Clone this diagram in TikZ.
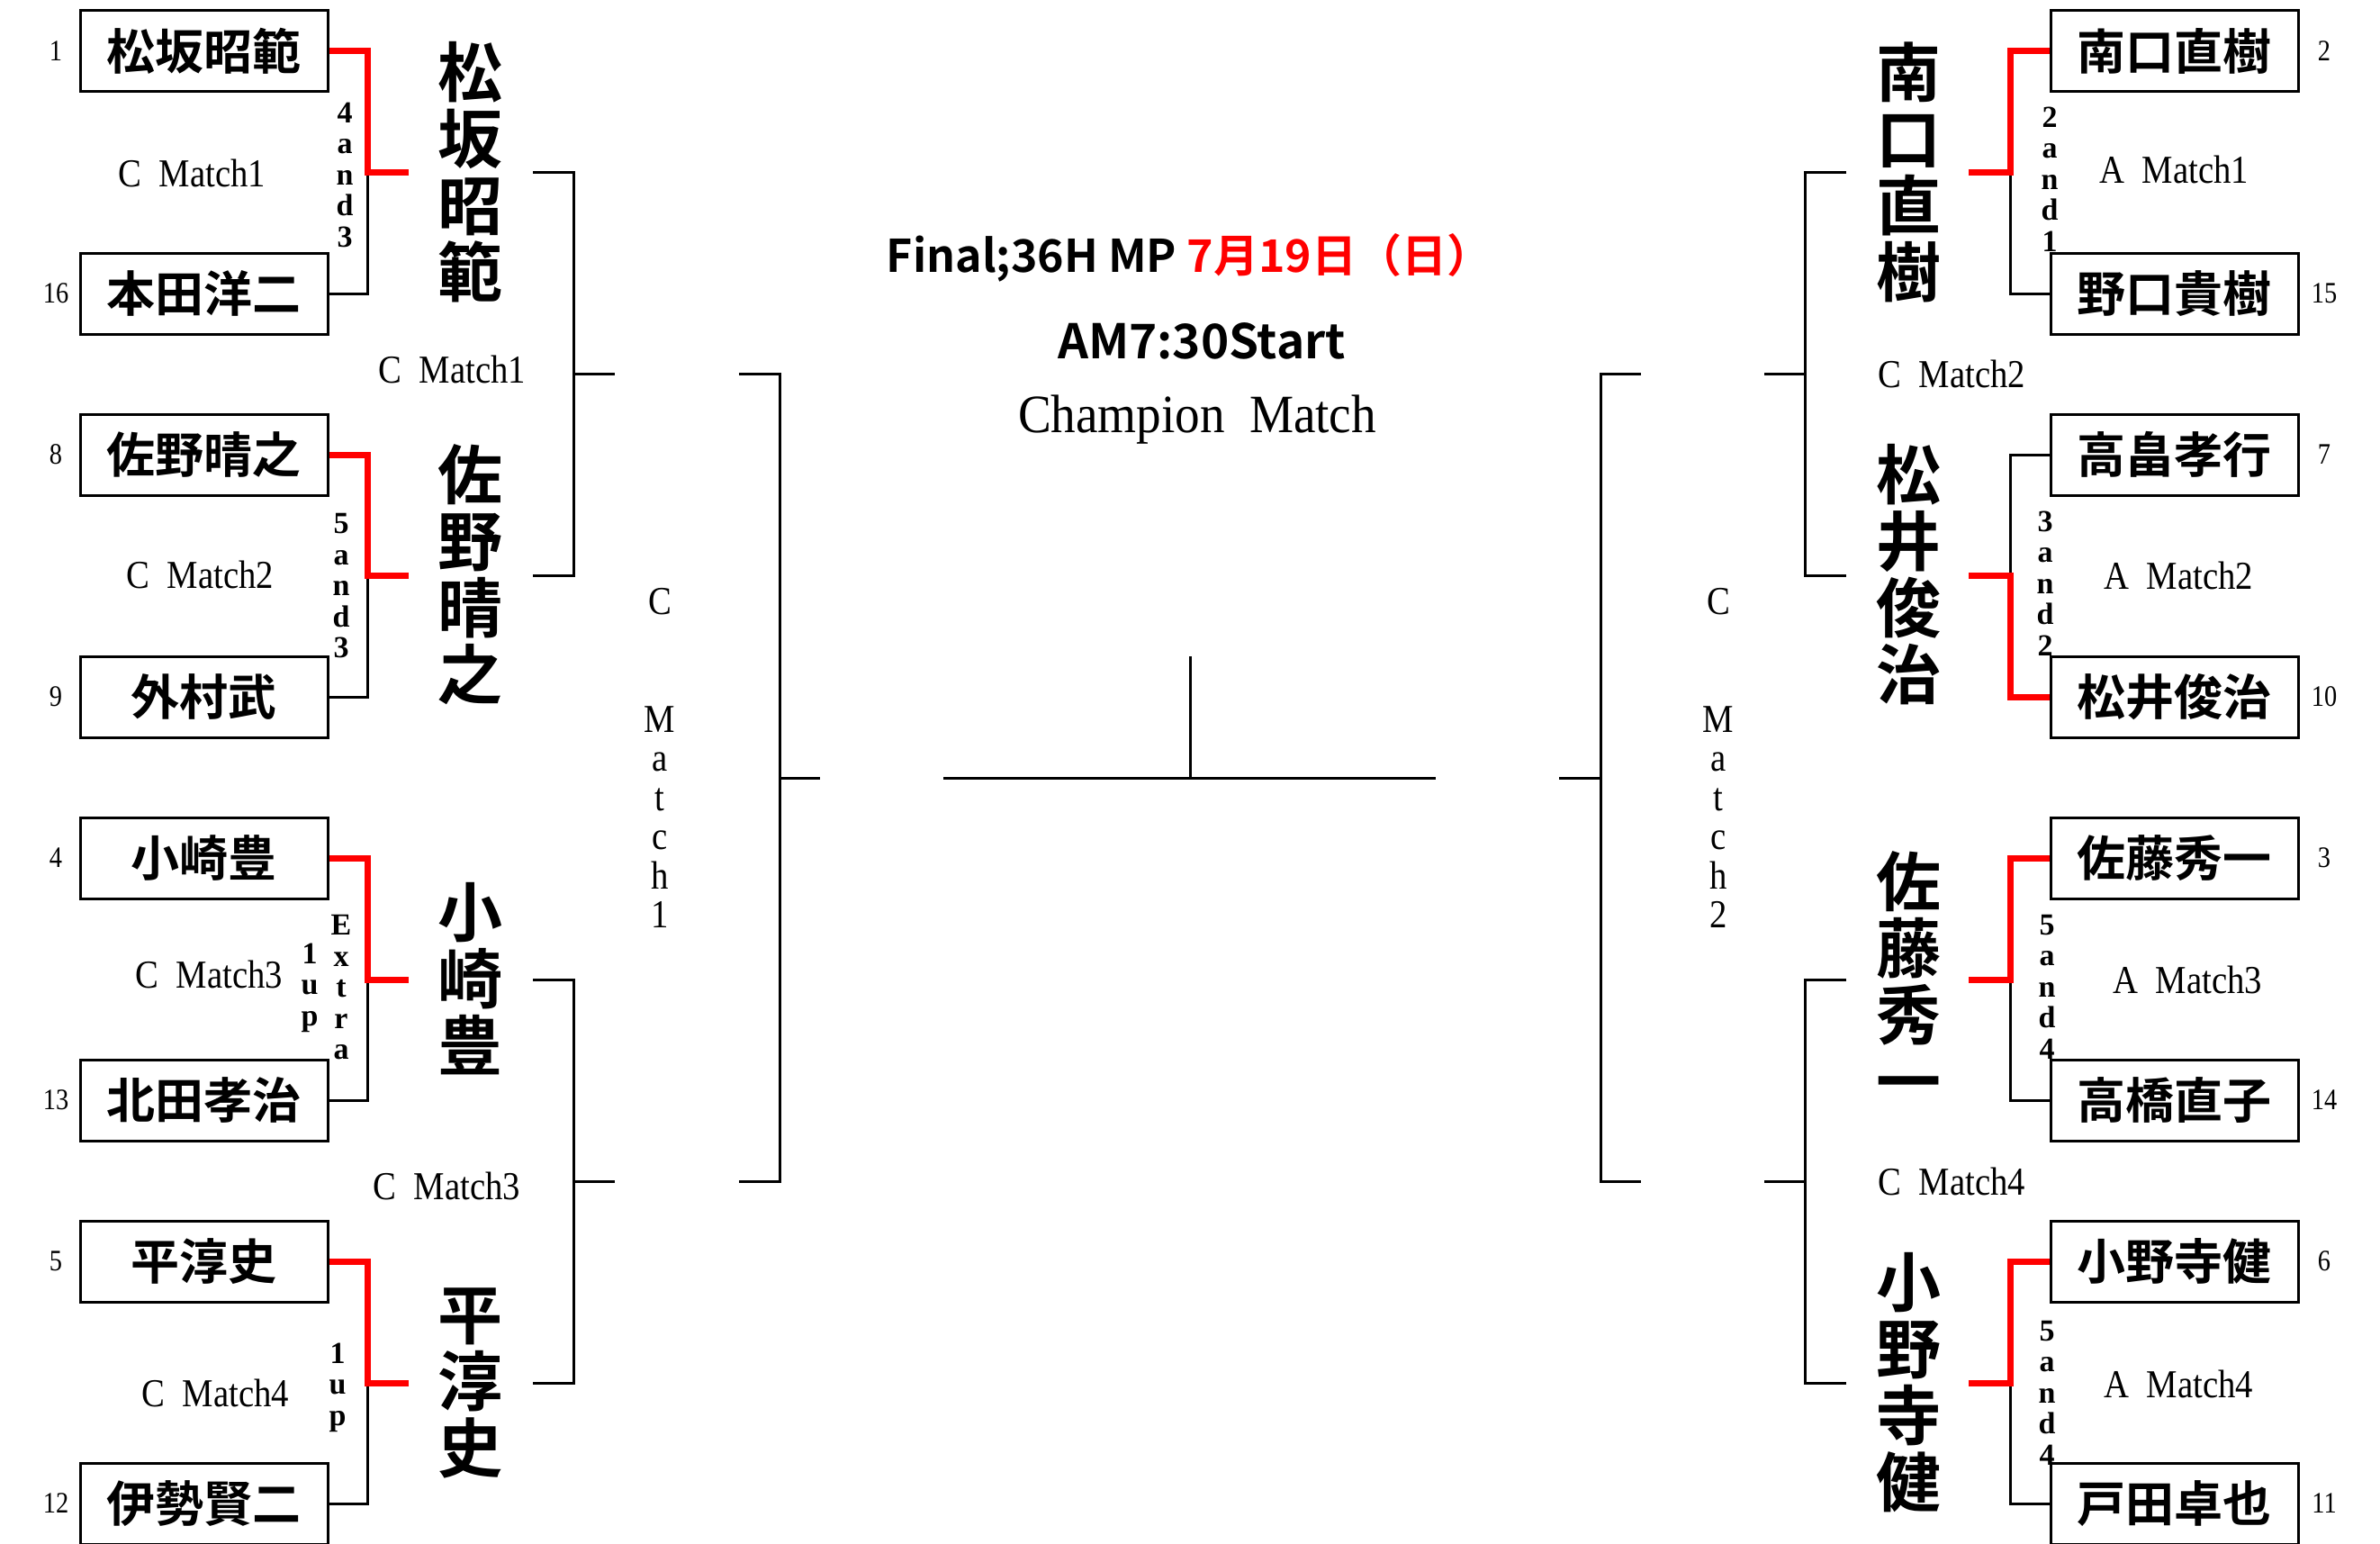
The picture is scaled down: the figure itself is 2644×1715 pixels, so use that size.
\documentclass[tikz,border=0pt]{standalone}
\usepackage{fontspec}
\setmainfont{Liberation Serif}
\newfontfamily\jpb{Noto Sans CJK JP Bold}
\newfontfamily\cserif[FakeStretch=0.88]{Liberation Serif}
\newfontfamily\nserif[FakeStretch=0.86]{Liberation Serif}
\newfontfamily\tserif[FakeStretch=0.92]{Liberation Serif}
\begin{document}
\begin{tikzpicture}[x=1pt,y=-1pt,
  pbox/.style={draw, line width=3pt, minimum width=275pt, minimum height=90pt, inner sep=0pt, font=\jpb\fontsize{54}{54}\selectfont},
  seed/.style={inner sep=0pt, font=\nserif\fontsize{33}{33}\selectfont},
  winner/.style={align=center, inner sep=0pt, font=\jpb\fontsize{72}{74}\selectfont},
  mlabel/.style={inner sep=0pt, font=\cserif\fontsize{44}{44}\selectfont},
  score/.style={align=center, inner sep=0pt, font=\bfseries\fontsize{34}{34.5}\selectfont},
  vlabel/.style={align=center, inner sep=0pt, font=\cserif\fontsize{44}{43.5}\selectfont},
  wline/.style={red, line width=7pt},
  bline/.style={black, line width=3pt},
  ttl/.style={inner sep=0pt, font=\jpb\fontsize{50}{50}\selectfont}
]
\useasboundingbox[fill=white] (0,0) rectangle (2644,1715);

% ---------- left boxes ----------
\foreach \i/\y/\nm/\sd in {1/57/松坂昭範/1, 2/326/本田洋二/16, 3/505/佐野晴之/8, 4/774/外村武/9, 5/953/小崎豊/4, 6/1222/北田孝治/13, 7/1401/平淳史/5, 8/1670/伊勢賢二/12}{
  \node[pbox] (L\i) at (226.5,\y) {\nm};
  \node[seed] (LS\i) at (62,\y) {\sd};
}
% ---------- right boxes ----------
\foreach \i/\y/\nm/\sd in {1/57/南口直樹/2, 2/326/野口貴樹/15, 3/505/高畠孝行/7, 4/774/松井俊治/10, 5/953/佐藤秀一/3, 6/1222/高橋直子/14, 7/1401/小野寺健/6, 8/1670/戸田卓也/11}{
  \node[pbox] (R\i) at (2415.5,\y) {\nm};
  \node[seed] (RS\i) at (2582,\y) {\sd};
}

% ---------- winners ----------
\node[winner] (LW1) at (522,191) {松\\坂\\昭\\範};
\node[winner] (LW2) at (522,638) {佐\\野\\晴\\之};
\node[winner] (LW3) at (522,1087) {小\\崎\\豊};
\node[winner] (LW4) at (522,1536) {平\\淳\\史};
\node[winner] (RW1) at (2120,191) {南\\口\\直\\樹};
\node[winner] (RW2) at (2120,638) {松\\井\\俊\\治};
\node[winner] (RW3) at (2120,1087) {佐\\藤\\秀\\一};
\node[winner] (RW4) at (2120,1536) {小\\野\\寺\\健};

% ---------- junction coordinates ----------
\foreach \k/\j in {1/192, 2/639, 3/1088, 4/1536}{
  \coordinate (LJ\k) at (408,\j);
  \coordinate (LE\k) at (454,\j);
  \coordinate (LO\k) at (592,\j);
  \coordinate (RJ\k) at (2233,\j);
  \coordinate (RE\k) at (2187,\j);
  \coordinate (RO\k) at (2051,\j);
}

% ---------- first round, left ----------
\draw[bline] (L2.east) -| (LJ1);
\draw[wline] (L1.east) -| (LJ1) -- (LE1);
\draw[bline] (L4.east) -| (LJ2);
\draw[wline] (L3.east) -| (LJ2) -- (LE2);
\draw[bline] (L6.east) -| (LJ3);
\draw[wline] (L5.east) -| (LJ3) -- (LE3);
\draw[bline] (L8.east) -| (LJ4);
\draw[wline] (L7.east) -| (LJ4) -- (LE4);

% ---------- first round, right ----------
\draw[bline] (R2.west) -| (RJ1);
\draw[wline] (R1.west) -| (RJ1) -- (RE1);
\draw[bline] (R3.west) -| (RJ2);
\draw[wline] (R4.west) -| (RJ2) -- (RE2);
\draw[bline] (R6.west) -| (RJ3);
\draw[wline] (R5.west) -| (RJ3) -- (RE3);
\draw[bline] (R8.west) -| (RJ4);
\draw[wline] (R7.west) -| (RJ4) -- (RE4);

% ---------- second round ----------
\coordinate (LQ1) at (683,415.5);
\coordinate (LQ2) at (683,1312);
\coordinate (RQ1) at (1960,415.5);
\coordinate (RQ2) at (1960,1312);
\draw[bline] (LO1) -| (637,415.5) |- (LO2);
\draw[bline] (637,415.5) -- (LQ1);
\draw[bline] (LO3) -| (637,1312) |- (LO4);
\draw[bline] (637,1312) -- (LQ2);
\draw[bline] (RO1) -| (2005,415.5) |- (RO2);
\draw[bline] (2005,415.5) -- (RQ1);
\draw[bline] (RO3) -| (2005,1312) |- (RO4);
\draw[bline] (2005,1312) -- (RQ2);

% ---------- semi finals ----------
\coordinate (LS1) at (821,415.5);
\coordinate (LS2) at (821,1312);
\coordinate (LSo) at (911,864);
\coordinate (RS1) at (1823,415.5);
\coordinate (RS2) at (1823,1312);
\coordinate (RSo) at (1732,864);
\draw[bline] (LS1) -| (866,864) |- (LS2);
\draw[bline] (866,864) -- (LSo);
\draw[bline] (RS1) -| (1778,864) |- (RS2);
\draw[bline] (1778,864) -- (RSo);

% ---------- final ----------
\coordinate (FL) at (1048,864);
\coordinate (FR) at (1595,864);
\coordinate (FT) at (1322,729);
\draw[bline] (FL) -- (FR);
\draw[bline] (FT) -- (FT |- FL);

% ---------- match labels ----------
\node[mlabel] (m1) at (213,192) {C\hspace{0.45em}Match1};
\node[mlabel] (m2) at (222,638) {C\hspace{0.45em}Match2};
\node[mlabel] (m3) at (232,1082) {C\hspace{0.45em}Match3};
\node[mlabel] (m4) at (239,1547) {C\hspace{0.45em}Match4};
\node[mlabel] (a1) at (2415,188) {A\hspace{0.45em}Match1};
\node[mlabel] (a2) at (2420,639) {A\hspace{0.45em}Match2};
\node[mlabel] (a3) at (2430,1088) {A\hspace{0.45em}Match3};
\node[mlabel] (a4) at (2420,1537) {A\hspace{0.45em}Match4};
\node[mlabel] (q1) at (502,410) {C\hspace{0.45em}Match1};
\node[mlabel] (q3) at (496,1317) {C\hspace{0.45em}Match3};
\node[mlabel] (q2) at (2168,415) {C\hspace{0.45em}Match2};
\node[mlabel] (q4) at (2168,1312) {C\hspace{0.45em}Match4};
\node[vlabel] (s1) at (733,842) {C\\[87pt]M\\a\\t\\c\\h\\1};
\node[vlabel] (s2) at (1909,842) {C\\[87pt]M\\a\\t\\c\\h\\2};

% ---------- scores ----------
\node[score] (sc1) at (383,194) {4\\a\\n\\d\\3};
\node[score] (sc2) at (379,651) {5\\a\\n\\d\\3};
\node[score] (sc3a) at (344,1097) {1\\u\\p};
\node[score] (sc3b) at (379,1097) {E\\x\\t\\r\\a};
\node[score] (sc4) at (375,1541) {1\\u\\p};
\node[score] (sc5) at (2277,199) {2\\a\\n\\d\\1};
\node[score] (sc6) at (2272,648) {3\\a\\n\\d\\2};
\node[score] (sc7) at (2274,1096) {5\\a\\n\\d\\4};
\node[score] (sc8) at (2274,1547) {5\\a\\n\\d\\4};

% ---------- titles ----------
\node[ttl] (t1) at (1321,286) {Final;36H MP \textcolor{red}{7月19日（日）}};
\node[ttl, font=\jpb\fontsize{53}{53}\selectfont] (t2) at (1335,379) {AM7:30Start};
\node[inner sep=0pt, font=\tserif\fontsize{60}{60}\selectfont] (t3) at (1330,466) {Champion\hspace{0.45em}Match};
\end{tikzpicture}
\end{document}
